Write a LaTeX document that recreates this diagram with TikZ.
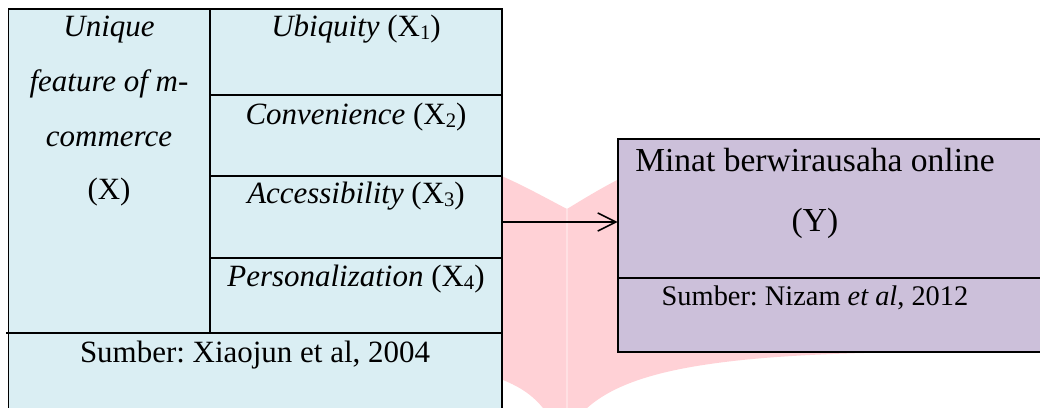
\documentclass[tikz,border=0pt]{standalone}
\usepackage{fontspec}
\setmainfont{Liberation Serif}[ItalicFont={Liberation Serif Italic},BoldFont={Liberation Serif Bold}]
\usetikzlibrary{arrows.meta}
\definecolor{cellblue}{HTML}{DAEEF3}
\definecolor{cellpurple}{HTML}{CCC0DA}
\definecolor{wmpink}{HTML}{FFD1D6}
\definecolor{wmspine}{HTML}{FFE0E3}
\newcommand{\mysub}[1]{\raisebox{-0.8pt}{\fontsize{8}{8}\selectfont #1}}
\frenchspacing
\tikzset{
  grid/.style={draw=black, line width=0.75pt},
  txt/.style={anchor=base, inner sep=0pt, font=\fontsize{12}{14}\selectfont},
  txtsmall/.style={anchor=base, inner sep=0pt, font=\fontsize{11}{13}\selectfont},
  txtbig/.style={anchor=base, inner sep=0pt, font=\fontsize{13}{15}\selectfont},
  conn/.style={draw=black, line width=0.6pt, -{Straight Barb[length=7pt,width=7pt,line width=0.6pt]}}
}
\begin{document}
\begin{tikzpicture}[x=0.3876pt, y=-0.3876pt]
\useasboundingbox (0,0) rectangle (1040,408);
\clip (0,0) rectangle (1040,408);
\fill[white] (0,0) rectangle (1040,408);
% watermark
\fill[wmpink] (470,165) .. controls (500,172) and (540,195) .. (567,209)
  .. controls (590,195) and (620,176) .. (680,150) -- (950,150) -- (950,352)
  .. controls (720,352) and (630,370) .. (587,408) -- (565,430) -- (543,408)
  .. controls (530,392) and (515,385) .. (503,380) -- (470,370) -- cycle;
\draw[wmspine, line width=0.6pt] (567,209) -- (567,420);
% left table
\fill[cellblue] (8.5,9) rectangle (502,420);
\draw[grid] (8.5,420) -- (8.5,9) -- (502,9) -- (502,420);
\draw[grid] (210,9) -- (210,333);
\draw[grid] (210,95) -- (502,95);
\draw[grid] (210,176) -- (502,176);
\draw[grid] (210,258) -- (502,258);
\draw[grid] (6,333) -- (502,333);
% right box
\fill[cellpurple] (618,139) rectangle (1050,352);
\draw[grid] (1050,139) -- (618,139) -- (618,352) -- (1050,352);
\draw[grid] (618,278) -- (1050,278);
% texts
\node[txt] (u1) at (109,37) {\itshape Unique};
\node[txt] (u2) at (109,92) {\itshape feature of m-};
\node[txt] (u3) at (109,147) {\itshape commerce};
\node[txt] (u4) at (109,200) {(X)};
\node[txt] (x1) at (356,37) {\itshape Ubiquity \upshape(X\mysub{1})};
\node[txt] (x2) at (356,125) {\itshape Convenience \upshape(X\mysub{2})};
\node[txt] (x3) at (356,204) {\itshape Accessibility \upshape(X\mysub{3})};
\node[txt] (x4) at (356,287) {\itshape Personalization \upshape(X\mysub{4})};
\node[txt] (sx) at (255,362) {Sumber: Xiaojun et al, 2004};
\node[txtbig] (y1) at (815,172) {Minat berwirausaha online};
\node[txtbig] (y2) at (815,232) {(Y)};
\node[txtsmall] (sy) at (815,305) {Sumber: Nizam \textit{et al}, 2012};
% connector
\coordinate (src) at (502,222);
\coordinate (dst) at (617.5,222);
\draw[conn] (src) -- (dst);
\end{tikzpicture}
\end{document}
